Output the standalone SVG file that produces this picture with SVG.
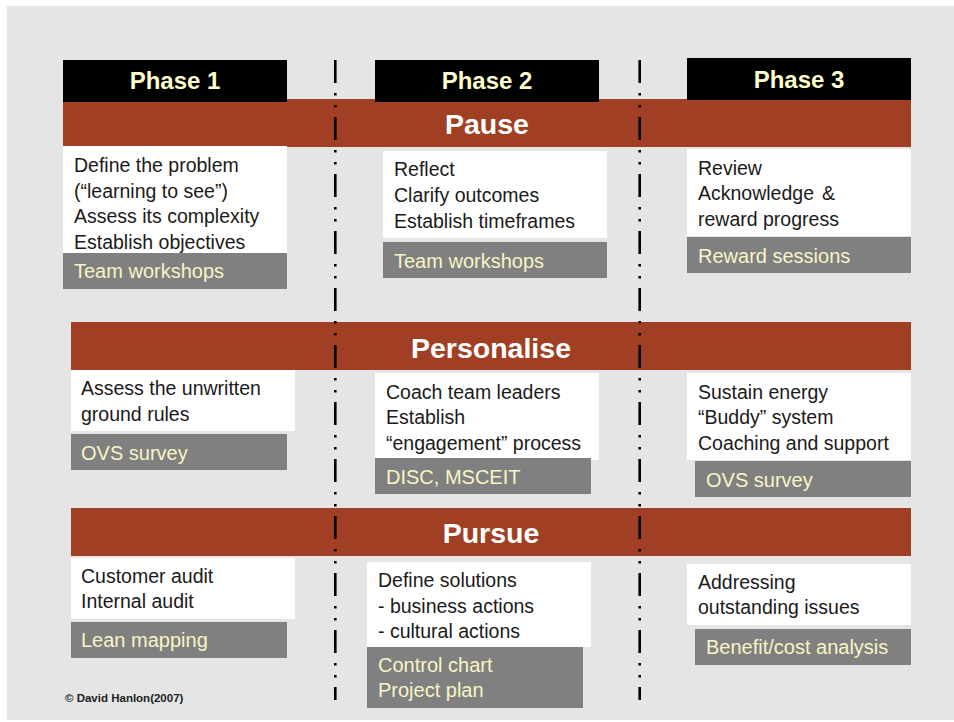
<svg xmlns="http://www.w3.org/2000/svg" width="954" height="722" viewBox="0 0 954 722">
<style>
.hdr{fill:#000}
.hdrt{font-family:"Liberation Sans",Arial,sans-serif;font-weight:bold;font-size:24px;fill:#ffffcc;text-anchor:middle}
.bar{fill:#a13f24}
.bart{font-family:"Liberation Sans",Arial,sans-serif;font-weight:bold;font-size:28.5px;fill:#ffffff;text-anchor:middle}
.wb{fill:#ffffff}
.gb{fill:#808080}
.wt{font-family:"Liberation Sans",Arial,sans-serif;font-size:19.5px;fill:#1a1a1a}
.gt{font-family:"Liberation Sans",Arial,sans-serif;font-size:20px;fill:#f8f4c6}
.sep{stroke:#000;stroke-width:2.6;fill:none;stroke-dasharray:23 10 2.5 9.5 2.5 9.5}
.copy{font-family:"Liberation Sans",Arial,sans-serif;font-weight:bold;font-size:11.5px;fill:#222}
</style>
<rect x="7" y="6" width="947" height="714" fill="#e5e5e5"/>

<g id="bar-pause"><rect class="bar" x="63" y="99" width="848" height="48"/><text class="bart" x="487" y="134">Pause</text></g>
<g id="bar-personalise"><rect class="bar" x="71" y="322" width="840" height="48"/><text class="bart" x="491" y="358">Personalise</text></g>
<g id="bar-pursue"><rect class="bar" x="71" y="508" width="840" height="48"/><text class="bart" x="491" y="543">Pursue</text></g>

<g id="phase1"><rect class="hdr" x="63" y="60" width="224" height="42"/><text class="hdrt" x="175" y="89">Phase 1</text></g>
<g id="phase2"><rect class="hdr" x="375" y="60" width="224" height="42"/><text class="hdrt" x="487" y="89">Phase 2</text></g>
<g id="phase3"><rect class="hdr" x="687" y="58" width="224" height="42"/><text class="hdrt" x="799" y="88">Phase 3</text></g>

<g id="pause-p1">
<rect class="wb" x="63" y="146" width="224" height="107"/>
<text class="wt" x="74" y="172">Define the problem</text>
<text class="wt" x="74" y="197.5">(“learning to see”)</text>
<text class="wt" x="74" y="223">Assess its complexity</text>
<text class="wt" x="74" y="248.5">Establish objectives</text>
</g>
<g id="pause-p1-tool"><rect class="gb" x="63" y="253" width="224" height="36"/><text class="gt" x="74" y="278">Team workshops</text></g>

<g id="pause-p2">
<rect class="wb" x="383" y="151" width="224" height="87"/>
<text class="wt" x="394" y="176">Reflect</text>
<text class="wt" x="394" y="202">Clarify outcomes</text>
<text class="wt" x="394" y="228">Establish timeframes</text>
</g>
<g id="pause-p2-tool"><rect class="gb" x="383" y="242" width="224" height="36"/><text class="gt" x="394" y="267.5">Team workshops</text></g>

<g id="pause-p3">
<rect class="wb" x="687" y="149" width="224" height="87"/>
<text class="wt" x="698" y="174.5">Review</text>
<text class="wt" x="698" y="200">Acknowledge<tspan x="822">&amp;</tspan></text>
<text class="wt" x="698" y="225.5">reward progress</text>
</g>
<g id="pause-p3-tool"><rect class="gb" x="687" y="237" width="224" height="36"/><text class="gt" x="698" y="262.5">Reward sessions</text></g>

<g id="pers-p1">
<rect class="wb" x="71" y="370" width="224" height="61"/>
<text class="wt" x="81" y="395">Assess the unwritten</text>
<text class="wt" x="81" y="420.5">ground rules</text>
</g>
<g id="pers-p1-tool"><rect class="gb" x="71" y="434" width="216" height="36"/><text class="gt" x="81" y="460">OVS survey</text></g>

<g id="pers-p2">
<rect class="wb" x="375" y="373" width="224" height="87"/>
<text class="wt" x="386" y="399">Coach team leaders</text>
<text class="wt" x="386" y="424">Establish</text>
<text class="wt" x="386" y="449.5">“engagement” process</text>
</g>
<g id="pers-p2-tool"><rect class="gb" x="375" y="458" width="216" height="36"/><text class="gt" x="386" y="484">DISC, MSCEIT</text></g>

<g id="pers-p3">
<rect class="wb" x="687" y="373" width="224" height="87"/>
<text class="wt" x="698" y="399">Sustain energy</text>
<text class="wt" x="698" y="424">“Buddy” system</text>
<text class="wt" x="698" y="450">Coaching and support</text>
</g>
<g id="pers-p3-tool"><rect class="gb" x="695" y="461" width="216" height="36"/><text class="gt" x="706" y="487">OVS survey</text></g>

<g id="purs-p1">
<rect class="wb" x="71" y="558" width="224" height="61"/>
<text class="wt" x="81" y="583">Customer audit</text>
<text class="wt" x="81" y="608">Internal audit</text>
</g>
<g id="purs-p1-tool"><rect class="gb" x="71" y="622" width="216" height="36"/><text class="gt" x="81" y="647">Lean mapping</text></g>

<g id="purs-p2">
<rect class="wb" x="367" y="562" width="224" height="85"/>
<text class="wt" x="378" y="587">Define solutions</text>
<text class="wt" x="378" y="612.5">- business actions</text>
<text class="wt" x="378" y="637.5">- cultural actions</text>
</g>
<g id="purs-p2-tool"><rect class="gb" x="367" y="647" width="216" height="61"/>
<text class="gt" x="378" y="672">Control chart</text>
<text class="gt" x="378" y="697">Project plan</text>
</g>

<g id="purs-p3">
<rect class="wb" x="687" y="564" width="224" height="61"/>
<text class="wt" x="698" y="588.5">Addressing</text>
<text class="wt" x="698" y="614">outstanding issues</text>
</g>
<g id="purs-p3-tool"><rect class="gb" x="695" y="629" width="216" height="36"/><text class="gt" x="706" y="654">Benefit/cost analysis</text></g>

<g id="connectors">
<line class="sep" x1="335.3" y1="60" x2="335.3" y2="700"/>
<line class="sep" x1="639.7" y1="60" x2="639.7" y2="700"/>
</g>

<g id="copyright"><text class="copy" x="65" y="701.5">© David Hanlon(2007)</text></g>
</svg>
